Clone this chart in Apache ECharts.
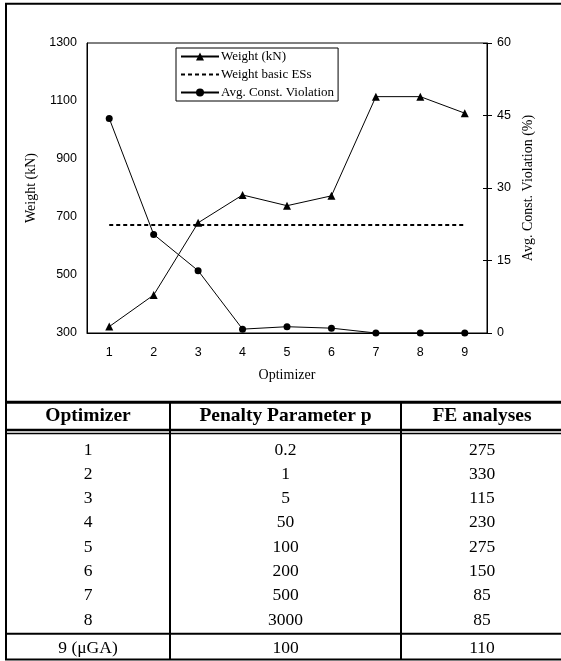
<!DOCTYPE html>
<html>
<head>
<meta charset="utf-8">
<script src="https://cdn.jsdelivr.net/npm/echarts@6/dist/echarts.min.js"></script>
<style>
  html, body { margin: 0; padding: 0; background: #fff; }
  #chart { width: 561px; height: 661px; }
</style>
</head>
<body>
<div id="chart"></div>
<script>
// Optimizer index on the x axis
const optimizers = ['1', '2', '3', '4', '5', '6', '7', '8', '9'];
// Final structural weight per optimizer (kN)
const weightKN = [322, 431, 680, 776, 739, 773, 1115, 1115, 1058];
// Reference weight of the basic ESs (kN)
const basicWeightKN = [672, 672, 672, 672, 672, 672, 672, 672, 672];
// Average constraint violation (%)
const avgViolation = [44.4, 20.4, 12.9, 0.8, 1.3, 1.0, 0, 0, 0];

// Left and right axis ranges
const weightTicks = { min: 300, max: 1300, step: 200 };
const violationTicks = { min: 0, max: 60, step: 15 };

// Settings table below the plot
const tableHeader = ['Optimizer', 'Penalty Parameter p', 'FE analyses'];
const tableOptimizer = ['1', '2', '3', '4', '5', '6', '7', '8', '9 (\u03bcGA)'];
const tablePenalty = ['0.2', '1', '5', '50', '100', '200', '500', '3000', '100'];
const tableFE = ['275', '330', '115', '230', '275', '150', '85', '85', '110'];

const SANS = '"Liberation Sans", Arial, sans-serif';
const SERIF = '"Liberation Serif", "Times New Roman", serif';

// --- table geometry ---
const colEdges = [6, 170, 401, 563];
const frameTop = 3.7, frameBottom = 659.5;
const tableTop = 402.3;
const headerY = 416;
const rowY0 = 450, rowStep = 24.3;
const lastRowY = 648;
const lastRowLine = 633.7;

function lineEl(x1, y1, x2, y2, w) {
  return { type: 'line', silent: true, shape: { x1, y1, x2, y2 },
           style: { stroke: '#000', lineWidth: w } };
}
function textEl(x, y, text, size, weight) {
  return { type: 'text', silent: true,
           style: { x, y, text, fill: '#000', fontFamily: SERIF, fontSize: size,
                    fontWeight: weight || 'normal', align: 'center', verticalAlign: 'middle' } };
}

const graphics = [];
// outer frame
graphics.push({ type: 'rect', silent: true,
  shape: { x: colEdges[0], y: frameTop, width: colEdges[3] - colEdges[0], height: frameBottom - frameTop },
  style: { fill: 'none', stroke: '#000', lineWidth: 2 } });
// table rules
graphics.push(lineEl(colEdges[0], tableTop, colEdges[3], tableTop, 3));
graphics.push(lineEl(colEdges[0], 430, colEdges[3], 430, 2.5));
graphics.push(lineEl(colEdges[0], 433.6, colEdges[3], 433.6, 1.5));
graphics.push(lineEl(colEdges[0], lastRowLine, colEdges[3], lastRowLine, 2));
graphics.push(lineEl(colEdges[1], tableTop, colEdges[1], frameBottom, 2));
graphics.push(lineEl(colEdges[2], tableTop, colEdges[2], frameBottom, 2));

const colCenters = [0, 1, 2].map(i => (colEdges[i] + colEdges[i + 1]) / 2);
tableHeader.forEach((h, i) => graphics.push(textEl(colCenters[i], headerY, h, 19.5, 'bold')));
const columns = [tableOptimizer, tablePenalty, tableFE];
for (let r = 0; r < tableOptimizer.length; r++) {
  const y = r === tableOptimizer.length - 1 ? lastRowY : rowY0 + r * rowStep;
  columns.forEach((col, c) => graphics.push(textEl(colCenters[c], y, col[r], 17.5)));
}

const chart = echarts.init(document.getElementById('chart'), null, { renderer: 'canvas' });

const plainNumber = v => String(v);
const axisLabelStyle = { color: '#000', fontFamily: SANS, fontSize: 12.5, formatter: plainNumber };
const axisNameStyle = { color: '#000', fontFamily: SERIF, fontSize: 14 };

chart.setOption({
  animation: false,
  backgroundColor: '#fff',
  grid: {
    left: 87, right: 74, top: 43, bottom: 328,
    show: true, borderColor: '#000', borderWidth: 1, backgroundColor: 'transparent'
  },
  legend: {
    left: 176, top: 48,
    orient: 'vertical',
    padding: [2, 4, 2, 4],
    itemWidth: 38, itemHeight: 10, itemGap: 5,
    backgroundColor: '#fff', borderColor: '#000', borderWidth: 1,
    textStyle: { color: '#000', fontFamily: SERIF, fontSize: 13, padding: [0, 0, 0, -3] },
    data: [
      { name: 'Weight (kN)' },
      { name: 'Weight basic ESs', itemStyle: { color: 'rgba(0,0,0,0)', borderWidth: 0 } },
      { name: 'Avg. Const. Violation' }
    ]
  },
  xAxis: {
    type: 'category',
    data: optimizers,
    boundaryGap: true,
    name: 'Optimizer',
    nameLocation: 'middle',
    nameGap: 35,
    nameTextStyle: axisNameStyle,
    axisLine: { lineStyle: { color: '#000', width: 1 } },
    axisTick: { show: false },
    axisLabel: { color: '#000', fontFamily: SANS, fontSize: 12.5, margin: 13 },
    splitLine: { show: false }
  },
  yAxis: [
    {
      type: 'value',
      position: 'left',
      min: weightTicks.min, max: weightTicks.max, interval: weightTicks.step,
      name: 'Weight (kN)',
      nameLocation: 'middle',
      nameGap: 41,
      nameTextStyle: axisNameStyle,
      axisLine: { show: true, lineStyle: { color: '#000', width: 1 } },
      axisTick: { show: false },
      axisLabel: Object.assign({ margin: 10 }, axisLabelStyle),
      splitLine: { show: false }
    },
    {
      type: 'value',
      position: 'right',
      min: violationTicks.min, max: violationTicks.max, interval: violationTicks.step,
      name: 'Avg. Const. Violation (%)',
      nameLocation: 'middle',
      nameGap: 33,
      nameTextStyle: axisNameStyle,
      axisLine: { show: true, lineStyle: { color: '#000', width: 1 } },
      axisTick: { show: true, inside: false, length: 5, lineStyle: { color: '#000', width: 1 } },
      axisLabel: Object.assign({ margin: 10 }, axisLabelStyle),
      splitLine: { show: false }
    },
    {
      // inner half of the crossing ticks on the right axis
      type: 'value',
      position: 'right',
      min: violationTicks.min, max: violationTicks.max, interval: violationTicks.step,
      axisLine: { show: false },
      axisTick: { show: true, inside: true, length: 4, lineStyle: { color: '#000', width: 1 } },
      axisLabel: { show: false },
      splitLine: { show: false }
    }
  ],
  series: [
    {
      name: 'Weight (kN)',
      type: 'line',
      yAxisIndex: 0,
      data: weightKN,
      symbol: 'triangle',
      symbolSize: 8,
      itemStyle: { color: '#000' },
      lineStyle: { color: '#000', width: 1 },
      z: 4
    },
    {
      name: 'Weight basic ESs',
      type: 'line',
      yAxisIndex: 0,
      data: basicWeightKN,
      symbol: 'none',
      itemStyle: { color: '#000' },
      lineStyle: { color: '#000', width: 2, type: [4, 3] },
      z: 3
    },
    {
      name: 'Avg. Const. Violation',
      type: 'line',
      yAxisIndex: 1,
      data: avgViolation,
      symbol: 'circle',
      symbolSize: 7,
      itemStyle: { color: '#000' },
      lineStyle: { color: '#000', width: 1 },
      z: 4
    }
  ],
  graphic: graphics
});
</script>
</body>
</html>
